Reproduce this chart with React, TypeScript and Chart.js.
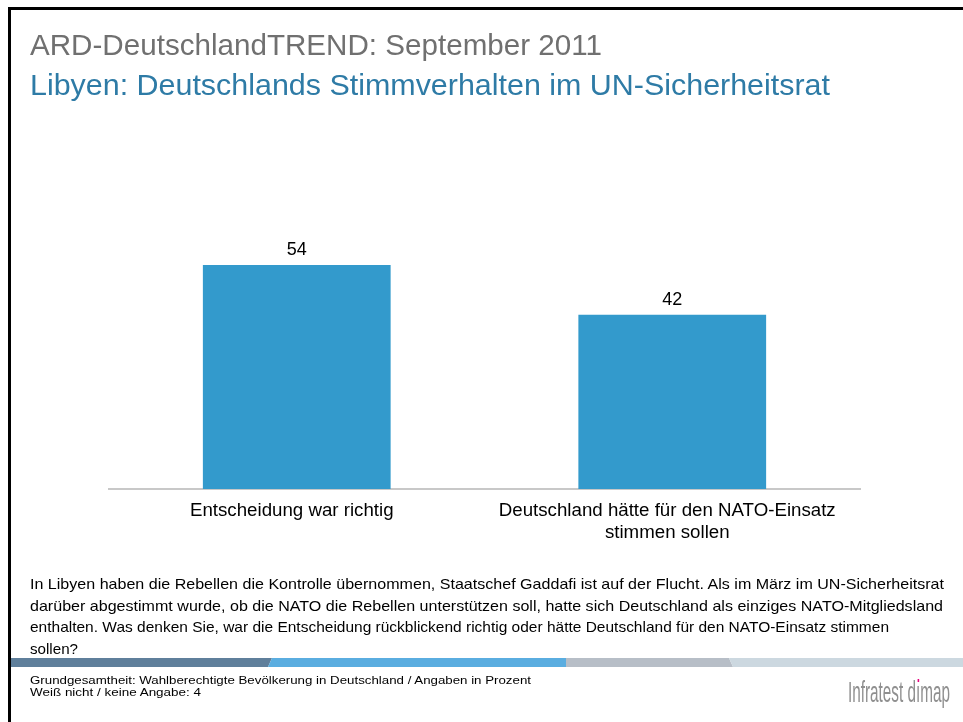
import React, { useEffect, useLayoutEffect, useRef } from 'react';
import { Chart, registerables } from 'chart.js';

Chart.register(...registerables);

const FONT = '"Liberation Sans", Arial, Helvetica, sans-serif';

const categories: string[][] = [
  ['Entscheidung war richtig'],
  ['Deutschland hätte für den NATO-Einsatz', 'stimmen sollen'],
];
const values: number[] = [54, 42];
const yMin = 0;
const yMax = 60;

const titleText = 'ARD-DeutschlandTREND: September 2011';
const subtitleText = 'Libyen: Deutschlands Stimmverhalten im UN-Sicherheitsrat';
const questionLines: string[] = [
  'In Libyen haben die Rebellen die Kontrolle übernommen, Staatschef Gaddafi ist auf der Flucht. Als im März im UN-Sicherheitsrat',
  'darüber abgestimmt wurde, ob die NATO die Rebellen unterstützen soll, hatte sich Deutschland als einziges NATO-Mitgliedsland',
  'enthalten. Was denken Sie, war die Entscheidung rückblickend richtig oder hätte Deutschland für den NATO-Einsatz stimmen',
  'sollen?',
];
const questionWidths: number[] = [914, 913, 859, 48];
const footerLines: string[] = [
  'Grundgesamtheit: Wahlberechtigte Bevölkerung in Deutschland / Angaben in Prozent',
  'Weiß nicht / keine Angabe: 4',
];
const footerWidths: number[] = [501, 171];

type LineProps = {
  x: number;
  baseline: number;
  size: number;
  color: string;
  width?: number;
  children: React.ReactNode;
};

function Line({ x, baseline, size, color, width, children }: LineProps) {
  const ref = useRef<HTMLSpanElement>(null);
  useLayoutEffect(() => {
    const fit = () => {
      const el = ref.current;
      if (!el || !width) return;
      el.style.transform = 'none';
      const w = el.getBoundingClientRect().width;
      if (w > 0) el.style.transform = `scaleX(${width / w})`;
    };
    fit();
    if ((document as any).fonts && (document as any).fonts.ready) {
      (document as any).fonts.ready.then(fit);
    }
  });
  return (
    <span
      ref={ref}
      style={{
        position: 'absolute',
        left: x,
        top: baseline - 0.92 * size,
        fontSize: size,
        lineHeight: `${size * 1.15}px`,
        whiteSpace: 'nowrap',
        color,
        fontFamily: FONT,
        transformOrigin: '0 0',
        display: 'inline-block',
        zIndex: 2,
      }}
    >
      {children}
    </span>
  );
}

const valueLabels = {
  id: 'valueLabels',
  afterDatasetsDraw(chart: any) {
    const ctx = chart.ctx;
    const meta = chart.getDatasetMeta(0);
    ctx.save();
    ctx.font = `18px ${FONT}`;
    ctx.fillStyle = '#000000';
    ctx.textAlign = 'center';
    ctx.textBaseline = 'alphabetic';
    meta.data.forEach((el: any, i: number) => {
      ctx.fillText(String(values[i]), el.x, el.y - 10);
    });
    ctx.restore();
  },
};

export default function App() {
  const canvasRef = useRef<HTMLCanvasElement>(null);

  useEffect(() => {
    const canvas = canvasRef.current;
    if (!canvas) return;
    const chart = new Chart(canvas, {
      type: 'bar',
      data: {
        labels: categories,
        datasets: [
          {
            data: values,
            backgroundColor: '#339acc',
            borderWidth: 0,
            categoryPercentage: 1,
            barPercentage: 0.5,
          },
        ],
      },
      options: {
        animation: false,
        responsive: false,
        maintainAspectRatio: false,
        devicePixelRatio: 1,
        layout: { padding: { left: 109, right: 103, top: 240, bottom: 153 } },
        plugins: {
          legend: { display: false },
          tooltip: { enabled: false },
          title: { display: false },
        },
        scales: {
          x: {
            grid: { display: false },
            border: { display: true, color: '#c8c8c8', width: 2 },
            ticks: {
              color: '#000000',
              font: { family: FONT, size: 18.7, lineHeight: 1.18 },
              padding: 3,
              labelOffset: -5,
              maxRotation: 0,
              minRotation: 0,
              autoSkip: false,
            },
            afterFit: (s: any) => {
              s.height = 80;
            },
          },
          y: { display: false, min: yMin, max: yMax },
        },
      },
      plugins: [valueLabels as any],
    });
    return () => chart.destroy();
  }, []);

  return (
    <div
      style={{
        position: 'absolute',
        left: 0,
        top: 0,
        width: 963,
        height: 722,
        overflow: 'hidden',
        background: '#ffffff',
        fontFamily: FONT,
      }}
    >
      <canvas
        ref={canvasRef}
        width={963}
        height={722}
        style={{ position: 'absolute', left: 0, top: 0, width: 963, height: 722, zIndex: 1 }}
      />
      {/* frame */}
      <div style={{ position: 'absolute', left: 8, top: 7, width: 955, height: 3, background: '#000', zIndex: 2 }} />
      <div style={{ position: 'absolute', left: 8, top: 7, width: 3, height: 715, background: '#000', zIndex: 2 }} />

      <Line x={30} baseline={56} size={29} color="#707070" width={572}>
        {titleText}
      </Line>
      <Line x={30} baseline={96} size={29} color="#2e7ba6" width={800}>
        {subtitleText}
      </Line>

      {questionLines.map((t, i) => (
        <Line key={i} x={30} baseline={589 + i * 21.5} size={15} color="#000000" width={questionWidths[i]}>
          {t}
        </Line>
      ))}

      <svg
        width={963}
        height={9}
        style={{ position: 'absolute', left: 0, top: 658, zIndex: 2 }}
      >
        <polygon points="11,0 272,0 268,9 11,9" fill="#5f7f9b" />
        <polygon points="272,0 566,0 566,9 268,9" fill="#5aade0" />
        <polygon points="566,0 729,0 733,9 566,9" fill="#b7bec7" />
        <polygon points="729,0 963,0 963,9 733,9" fill="#ccd8e0" />
      </svg>

      {footerLines.map((t, i) => (
        <Line key={i} x={30} baseline={684.5 + i * 12} size={11.5} color="#000000" width={footerWidths[i]}>
          {t}
        </Line>
      ))}

      <Line x={848} baseline={703} size={29} color="#8f8f8f" width={102}>
        Infratest d
        <span style={{ position: 'relative' }}>
          ı
          <span
            style={{
              position: 'absolute',
              left: '50%',
              top: 3,
              width: 3,
              height: 3,
              marginLeft: -1.5,
              background: '#e5007d',
            }}
          />
        </span>
        map
      </Line>
    </div>
  );
}
